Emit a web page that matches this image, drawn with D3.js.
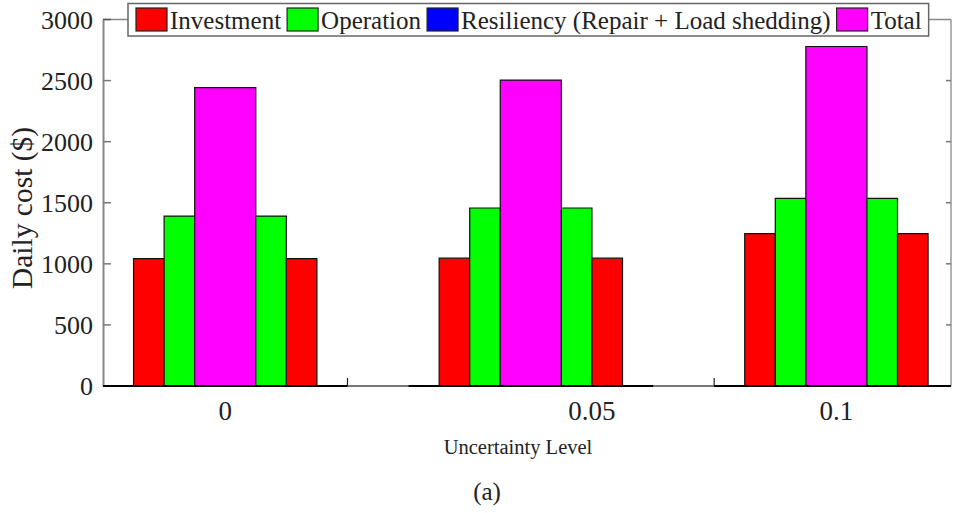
<!DOCTYPE html>
<html>
<head>
<meta charset="utf-8">
<script src="https://cdn.jsdelivr.net/npm/d3@7"></script>
<style>
  html, body { margin: 0; padding: 0; background: #fff; }
  svg { display: block; }
  svg text { font-family: "Liberation Serif", "Times New Roman", Times, serif !important; fill: #222; }
</style>
</head>
<body>
<svg id="chart" width="953" height="513"></svg>
<script>
// ---- data ----
const categories = ["0", "0.05", "0.1"];
const investment = [1043, 1046, 1247];
const operation  = [1391, 1457, 1536];
const resiliency = [0, 0, 0];
const total      = [2442, 2504, 2779];
const yTicks = [0, 500, 1000, 1500, 2000, 2500, 3000];
const xTickLabelPos = [0, 1.2, 2];   // where the category labels sit on the x scale
const xMinorTicks = [0.4, 1.6];
const seriesNames = ["Investment", "Operation", "Resiliency (Repair + Load shedding)", "Total"];
const seriesColors = ["#ff0000", "#00ff00", "#0000ff", "#ff00ff"];

// ---- layout ----
const FONT = '"Liberation Serif", "Times New Roman", Times, serif';
const svg = d3.select("#chart");
const pL = 103, pR = 951, pT = 19.5, pB = 386;
const x = d3.scaleLinear().domain([-0.4, 2.375]).range([pL, pR]);
const y = d3.scaleLinear().domain([0, 3000]).range([pB, pT]);

// bar slots relative to group center (offset, width) for symmetric layout
const slots = [
  { series: 0, off: -0.25, w: 0.1 },
  { series: 1, off: -0.15, w: 0.1 },
  { series: 3, off: 0,     w: 0.2 },
  { series: 1, off: 0.15,  w: 0.1 },
  { series: 0, off: 0.25,  w: 0.1 },
  { series: 2, off: 0.5,   w: 0.2 }
];
const seriesValues = [investment, operation, resiliency, total];

svg.append("defs").append("clipPath").attr("id", "clip")
  .append("rect").attr("x", pL).attr("y", 0).attr("width", pR - pL).attr("height", pB + 5);

// left axis
const yAxis = d3.axisLeft(y).tickValues(yTicks).tickFormat(d3.format("d")).tickSize(0).tickPadding(10);
const gy = svg.append("g").attr("transform", `translate(${pL},0)`).call(yAxis)
  .attr("font-family", null).attr("font-size", null);
gy.select(".domain").attr("stroke", "#888").attr("stroke-width", 2);
gy.selectAll(".tick text").style("font-family", FONT).attr("font-size", 26).attr("fill", "#222").attr("dy", "0.34em");
// inward ticks left
svg.append("g").selectAll("line").data(yTicks.slice(1, -1)).join("line")
  .attr("x1", pL).attr("x2", pL + 8)
  .attr("y1", d => y(d)).attr("y2", d => y(d))
  .attr("stroke", "#777").attr("stroke-width", 1.5);
// right axis
svg.append("line").attr("x1", pR).attr("x2", pR).attr("y1", pT).attr("y2", pB)
  .attr("stroke", "#999").attr("stroke-width", 1.5);
svg.append("g").selectAll("line").data(yTicks.slice(1, -1)).join("line")
  .attr("x1", pR - 5).attr("x2", pR)
  .attr("y1", d => y(d)).attr("y2", d => y(d))
  .attr("stroke", "#777").attr("stroke-width", 1.5);
// top axis line
svg.append("line").attr("x1", pL).attr("x2", pR).attr("y1", pT).attr("y2", pT)
  .attr("stroke", "#888").attr("stroke-width", 1.5);
svg.append("line").attr("x1", pL).attr("x2", pL + 8).attr("y1", y(3000)).attr("y2", y(3000))
  .attr("stroke", "#555").attr("stroke-width", 1.5);

// bars
const bars = [];
categories.forEach((c, i) => {
  slots.forEach(s => bars.push({ i, s, v: seriesValues[s.series][i] }));
});
const gBars = svg.append("g").attr("clip-path", "url(#clip)");

// bottom axis
svg.append("line").attr("x1", pL).attr("x2", pR).attr("y1", pB).attr("y2", pB)
  .attr("stroke", "#000").attr("stroke-width", 2.2);

gBars.selectAll("path").data(bars).join("path")
  .attr("d", d => {
    const x0 = x(d.i + d.s.off - d.s.w / 2), x1 = x(d.i + d.s.off + d.s.w / 2);
    const p = d3.path();
    p.moveTo(x0, y(0)); p.lineTo(x0, y(d.v)); p.lineTo(x1, y(d.v)); p.lineTo(x1, y(0)); p.closePath();
    return p.toString();
  })
  .attr("fill", d => seriesColors[d.s.series])
  .attr("stroke", d => d.v === 0 ? "#777" : "#111")
  .attr("stroke-width", d => d.v === 0 ? 2.2 : 1.2);
svg.append("g").attr("clip-path", "url(#clip)").selectAll("line").data(bars.filter(d => d.v === 0)).join("line")
  .attr("x1", d => x(d.i + d.s.off - d.s.w / 2)).attr("x2", d => x(d.i + d.s.off + d.s.w / 2))
  .attr("y1", y(0)).attr("y2", y(0)).attr("stroke", "#777").attr("stroke-width", 2.2);

// minor ticks on x axis
svg.append("g").selectAll("line").data(xMinorTicks).join("line")
  .attr("x1", d => x(d)).attr("x2", d => x(d))
  .attr("y1", pB).attr("y2", pB - 8)
  .attr("stroke", "#222").attr("stroke-width", 1.2);

// x tick labels
svg.append("g").selectAll("text").data(categories).join("text")
  .attr("x", (d, i) => x(xTickLabelPos[i]))
  .attr("y", 420)
  .attr("text-anchor", "middle")
  .style("font-family", FONT)
  .attr("font-size", 27)
  .text(d => d);

// axis titles
svg.append("text").attr("x", 518).attr("y", 454).attr("text-anchor", "middle")
  .style("font-family", FONT).attr("font-size", 20.5).text("Uncertainty Level");
svg.append("text").attr("transform", "translate(32,208) rotate(-90)").attr("text-anchor", "middle")
  .style("font-family", FONT).attr("font-size", 29.5).text("Daily cost ($)");
svg.append("text").attr("x", 487).attr("y", 500).attr("text-anchor", "middle")
  .style("font-family", FONT).attr("font-size", 25).text("(a)");

// legend
const lg = svg.append("g");
const box = lg.append("rect").attr("x", 128).attr("y", 3.5).attr("height", 32.5)
  .attr("fill", "#fff").attr("stroke", "#666").attr("stroke-width", 1.5);
let cx = 136;
seriesNames.forEach((name, k) => {
  lg.append("rect").attr("x", cx).attr("y", 8).attr("width", 31).attr("height", 23)
    .attr("fill", seriesColors[k]).attr("stroke", "#222").attr("stroke-width", 1.2);
  const t = lg.append("text").attr("x", cx + 34).attr("y", 28.5)
    .style("font-family", FONT).attr("font-size", 25).text(name);
  cx += 34 + t.node().getComputedTextLength() + 6;
});
box.attr("width", cx - 128 + 1);
</script>
</body>
</html>
